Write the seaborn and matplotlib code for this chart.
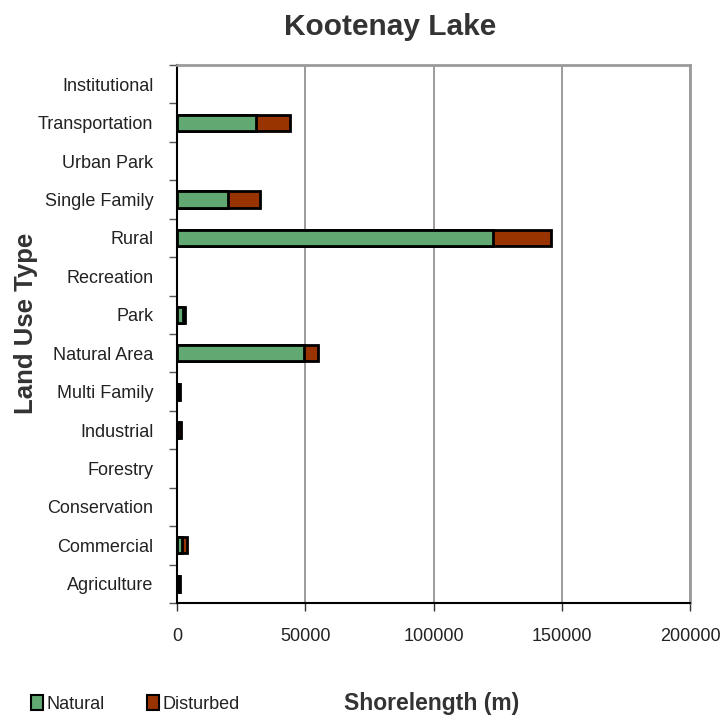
import matplotlib.pyplot as plt
import matplotlib.patches as mpatches
from matplotlib.ticker import FixedLocator
import seaborn as sns
import pandas as pd

# land use categories, top to bottom
land_use = ['Institutional', 'Transportation', 'Urban Park', 'Single Family', 'Rural',
            'Recreation', 'Park', 'Natural Area', 'Multi Family', 'Industrial',
            'Forestry', 'Conservation', 'Commercial', 'Agriculture']
# shorelength in metres
natural = [0, 30800, 0, 19900, 123100, 0, 2400, 49500, 500, 300, 0, 0, 1800, 600]
disturbed = [0, 13200, 0, 12400, 22600, 0, 600, 5500, 800, 1400, 0, 0, 2000, 600]
x_ticks = [0, 50000, 100000, 150000, 200000]

green = '#61A872'
rust = '#993300'
dark = '#333333'

df = pd.DataFrame({'land_use': land_use, 'natural': natural, 'disturbed': disturbed})
df['total'] = df['natural'] + df['disturbed']

sns.set_style('white')
plt.rcParams['font.family'] = ['Liberation Sans', 'DejaVu Sans']

fig = plt.figure(figsize=(7.23, 7.19), dpi=100)
ax = fig.add_axes([177 / 723, 1 - 603 / 719, (690 - 177) / 723, (603 - 65) / 719])

# stacked bars: total (disturbed colour) underneath, natural on top
sns.barplot(data=df, x='total', y='land_use', orient='h', color=rust, saturation=1,
            edgecolor='black', linewidth=2, width=0.42, ax=ax, zorder=3)
sns.barplot(data=df, x='natural', y='land_use', orient='h', color=green, saturation=1,
            edgecolor='black', linewidth=2, width=0.42, ax=ax, zorder=4)

# empty categories should show nothing, not a black edge
for p in ax.patches:
    if p.get_width() == 0:
        p.set_visible(False)

ax.set_xlim(0, 200000)
ax.set_xticks(x_ticks)
ax.set_xticklabels([str(t) for t in x_ticks])
ax.xaxis.grid(True, color='#8a8a8a', linewidth=1.2, zorder=0)
ax.yaxis.grid(False)

# category boundary ticks like the spreadsheet original
ax.yaxis.set_minor_locator(FixedLocator([i - 0.5 for i in range(len(land_use) + 1)]))
ax.tick_params(axis='y', which='major', length=0, pad=17, labelsize=13, labelcolor='#222222')
ax.tick_params(axis='y', which='minor', length=6, width=1, color='#555555', left=True)
ax.tick_params(axis='x', which='major', length=6, width=1, color='#333333', bottom=True,
               pad=12, labelsize=13, labelcolor='#222222')

for side in ['left', 'bottom']:
    ax.spines[side].set_color('black')
    ax.spines[side].set_linewidth(1.5)
for side in ['top', 'right']:
    ax.spines[side].set_color('#9a9a9a')
    ax.spines[side].set_linewidth(2)

ax.set_ylabel('Land Use Type', fontsize=18.5, fontweight='bold', color=dark)
ax.yaxis.set_label_coords(-0.271, 0.52)
ax.set_xlabel('')
fig.text(0.597, 0.021, 'Shorelength (m)', fontsize=16.5, fontweight='bold', color=dark,
         ha='center', va='center')
fig.text(0.54, 0.962, 'Kootenay Lake', fontsize=21.5, fontweight='bold', color=dark,
         ha='center', va='center')

handles = [mpatches.Patch(facecolor=green, edgecolor='black', linewidth=1.5, label='Natural'),
           mpatches.Patch(facecolor=rust, edgecolor='black', linewidth=1.5, label='Disturbed')]
fig.legend(handles=handles, loc='center left', bbox_to_anchor=(0.02, 0.021), ncol=2,
           frameon=False, fontsize=13, handlelength=0.7, handleheight=0.9, handletextpad=0.2,
           columnspacing=2.3, labelcolor='#222222')

fig.savefig('out.png', dpi=100)
